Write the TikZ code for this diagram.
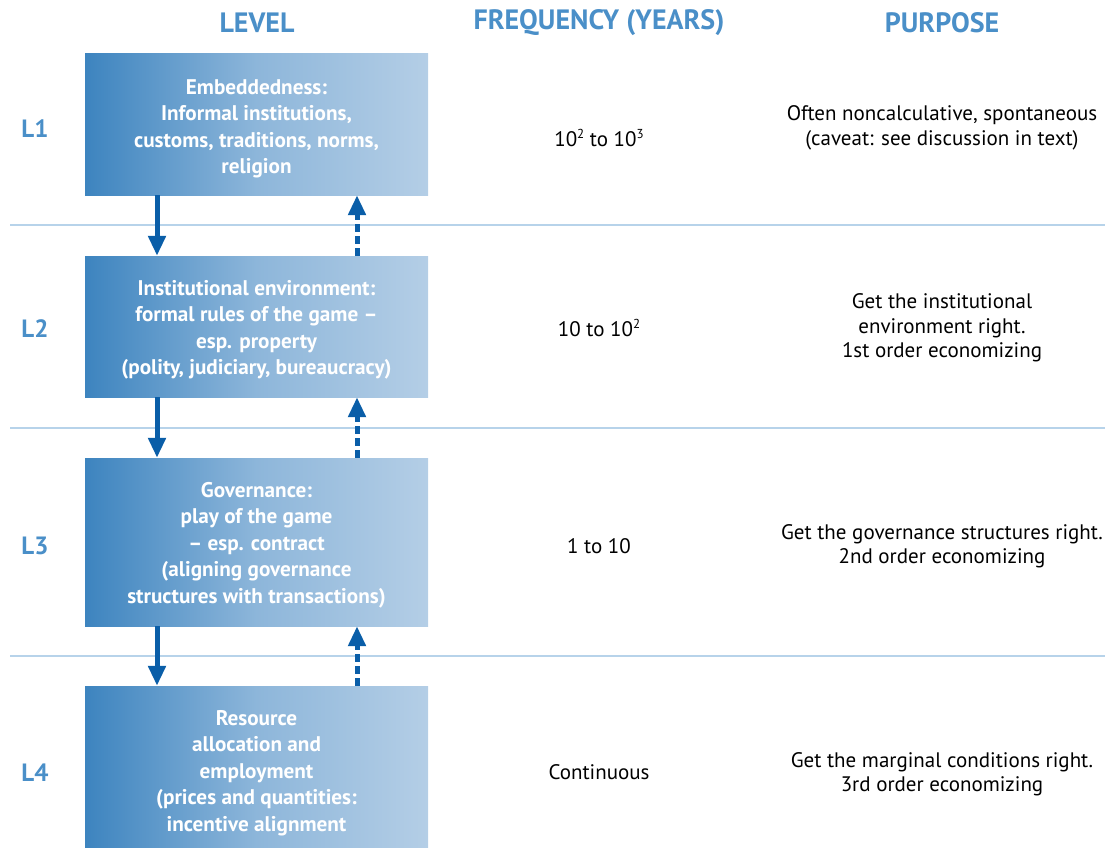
\documentclass[tikz,border=0pt]{standalone}
\usepackage{fontspec}
\setmainfont{PT Sans}
\usetikzlibrary{arrows.meta}
\definecolor{hdr}{HTML}{4A8FC8}
\definecolor{arr}{HTML}{0A5EA8}
\definecolor{sep}{HTML}{B7D3EA}
\definecolor{gl}{HTML}{3D84BF}
\definecolor{gm}{HTML}{8DB6DA}
\definecolor{gr}{HTML}{B4CEE6}
\newcommand{\supnum}[1]{\raisebox{0.42em}{\fontsize{13}{13}\selectfont #1}}
\begin{document}
\begin{tikzpicture}[x=1pt,y=-1pt,
  header/.style={font=\bfseries\fontsize{28}{30}\selectfont, text=hdr},
  lvl/.style={font=\bfseries\fontsize{25}{28}\selectfont, text=hdr},
  body/.style={font=\fontsize{21}{24.5}\selectfont, align=center, text=black},
  levelbox/.style={rectangle, inner sep=0pt, minimum width=343pt, left color=gl, right color=gr, middle color=gm,
     text=white, align=center, font=\bfseries\fontsize{21.2}{26.5}\selectfont},
  boxtext/.style={text=white, align=center, font=\bfseries\fontsize{21.2}{26.5}\selectfont},
  seprule/.style={draw=sep, line width=2.5pt},
  downarrow/.style={draw=arr, line width=5pt, -{Triangle[width=17pt,length=20pt]}},
  uparrow/.style={draw=arr, line width=5pt, dash pattern=on 8pt off 4pt, -{Triangle[width=17pt,length=20pt]}}
]
\useasboundingbox (0,0) rectangle (1105,848);
% headers
\node[header] (h1) at (257,23) {LEVEL};
\node[header] (h2) at (599,23) {FREQUENCY (YEARS)};
\node[header] (h3) at (942,23) {PURPOSE};
% separators
\coordinate (s1a) at (10,225); \coordinate (s1b) at (1105,225);
\coordinate (s2a) at (10,428); \coordinate (s2b) at (1105,428);
\coordinate (s3a) at (10,656); \coordinate (s3b) at (1105,656);
\draw[seprule] (s1a) -- (s1b);
\draw[seprule] (s2a) -- (s2b);
\draw[seprule] (s3a) -- (s3b);
% boxes
\node[levelbox, minimum height=141pt] (b1) at (256.5,124.5) {};
\node[levelbox, minimum height=141pt] (b2) at (256.5,326.5) {};
\node[levelbox, minimum height=168pt] (b3) at (256.5,542) {};
\node[levelbox, minimum height=170pt] (b4) at (256.5,771) {};
\node[boxtext] (t1) at (256.5,129) {Embeddedness:\\Informal institutions,\\customs, traditions, norms,\\religion};
\node[boxtext] (t2) at (256.5,330) {Institutional environment:\\formal rules of the game --\\esp. property\\(polity, judiciary, bureaucracy)};
\node[boxtext] (t3) at (256.5,545) {Governance:\\play of the game\\-- esp. contract\\(aligning governance\\structures with transactions)};
\node[boxtext] (t4) at (256.5,773) {Resource\\allocation and\\employment\\(prices and quantities:\\incentive alignment};
% arrows
\draw[downarrow] ([xshift=-99.5pt]b1.south) -- ([xshift=-99.5pt]b2.north);
\draw[downarrow] ([xshift=-99.5pt]b2.south) -- ([xshift=-99.5pt]b3.north);
\draw[downarrow] ([xshift=-99.5pt]b3.south) -- ([xshift=-99.5pt]b4.north);
\draw[uparrow] ([xshift=100.5pt]b2.north) -- ([xshift=100.5pt]b1.south);
\draw[uparrow] ([xshift=100.5pt]b3.north) -- ([xshift=100.5pt]b2.south);
\draw[uparrow] ([xshift=100.5pt]b4.north) -- ([xshift=100.5pt]b3.south);
% level labels
\node[lvl] (l1) at (35,129) {L1};
\node[lvl] (l2) at (35,329) {L2};
\node[lvl] (l3) at (35,546) {L3};
\node[lvl] (l4) at (35,773) {L4};
% frequency
\node[body] (f1) at (599,138) {10\supnum{2} to 10\supnum{3}};
\node[body] (f2) at (599,328) {10 to 10\supnum{2}};
\node[body] (f3) at (599,546) {1 to 10};
\node[body] (f4) at (599,772) {Continuous};
% purpose
\node[body] (p1) at (942,128) {Often noncalculative, spontaneous\\(caveat: see discussion in text)};
\node[body] (p2) at (942,328) {Get the institutional\\environment right.\\1st order economizing};
\node[body] (p3) at (942,546) {Get the governance structures right.\\2nd order economizing};
\node[body] (p4) at (942,774) {Get the marginal conditions right.\\3rd order economizing};
\end{tikzpicture}
\end{document}
